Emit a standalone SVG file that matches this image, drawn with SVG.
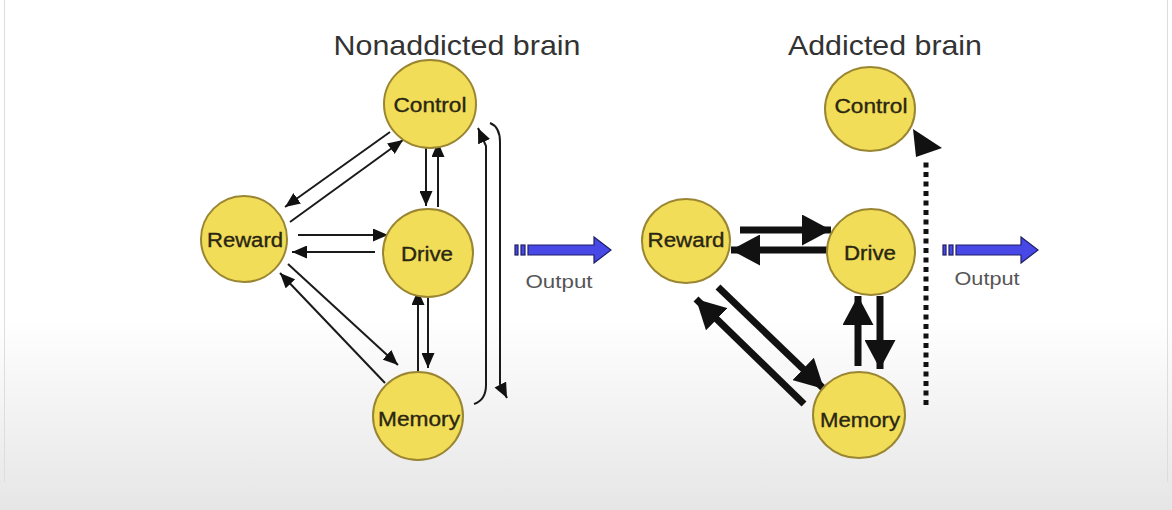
<svg xmlns="http://www.w3.org/2000/svg" width="1172" height="510" viewBox="0 0 1172 510">
  <defs>
    <linearGradient id="bg" x1="0" y1="0" x2="0" y2="1">
      <stop offset="0" stop-color="#ffffff"/>
      <stop offset="0.62" stop-color="#ffffff"/>
      <stop offset="1" stop-color="#e6e6e6"/>
    </linearGradient>
    <marker id="thin" markerUnits="userSpaceOnUse" markerWidth="15" markerHeight="13" refX="15" refY="6.5" orient="auto">
      <path d="M0,0 L15,6.5 L0,13 z" fill="#111"/>
    </marker>
    <marker id="thick" markerUnits="userSpaceOnUse" markerWidth="29" markerHeight="31" refX="29" refY="15.5" orient="auto">
      <path d="M0,0 L29,15.5 L0,31 z" fill="#111"/>
    </marker>
    <style>
      .node ellipse { fill: #f1dd58; stroke: #9a8632; stroke-width: 2; }
      .node text { font-family: "Liberation Sans", Arial, sans-serif; font-size: 20px; fill: #2a2612; stroke: #2a2612; stroke-width: 0.35; text-anchor: middle; }
      .title { font-family: "Liberation Sans", Arial, sans-serif; font-size: 28px; fill: #333; text-anchor: middle; }
      .out-label { font-family: "Liberation Sans", Arial, sans-serif; font-size: 19px; fill: #555; text-anchor: middle; }
      .thin { stroke: #1a1a1a; stroke-width: 2; fill: none; marker-end: url(#thin); }
      .bold { stroke: #111; stroke-width: 7; fill: none; marker-end: url(#thick); }
      .outarrow { fill: #4848e6; stroke: #1e1e66; stroke-width: 1.2; }
    </style>
  </defs>

  <rect x="0" y="0" width="1172" height="510" fill="url(#bg)"/>
  <line x1="4.5" y1="0" x2="4.5" y2="482" stroke="#dddddd" stroke-width="1"/>
  <line x1="1167.5" y1="0" x2="1167.5" y2="482" stroke="#dddddd" stroke-width="1"/>

  <text class="title" x="457" y="55" textLength="247" lengthAdjust="spacingAndGlyphs">Nonaddicted brain</text>
  <text class="title" x="885" y="55" textLength="194" lengthAdjust="spacingAndGlyphs">Addicted brain</text>

  <g id="connectors">
    <!-- Nonaddicted -->
    <line class="thin" x1="390" y1="132" x2="285" y2="207"/>
    <line class="thin" x1="290" y1="222" x2="403" y2="140"/>
    <line class="thin" x1="298" y1="235" x2="388" y2="235"/>
    <line class="thin" x1="375" y1="252" x2="292" y2="252"/>
    <line class="thin" x1="288" y1="264" x2="398" y2="365"/>
    <line class="thin" x1="385" y1="383" x2="280" y2="273"/>
    <line class="thin" x1="426" y1="148" x2="426" y2="206"/>
    <line class="thin" x1="438" y1="207" x2="438" y2="142"/>
    <line class="thin" x1="418" y1="372" x2="418" y2="290"/>
    <line class="thin" x1="428" y1="296" x2="428" y2="368"/>
    <path class="thin" d="M474,404 Q486,400 486,385 L486,146 L478,128"/>
    <path class="thin" d="M490,123 Q500,127 500,142 L500,384 L507,398"/>

    <!-- Addicted -->
    <line class="bold" x1="740" y1="230" x2="831" y2="230"/>
    <line class="bold" x1="828" y1="250" x2="731" y2="250"/>
    <line class="bold" x1="718" y1="287" x2="824" y2="389"/>
    <line class="bold" x1="804" y1="404" x2="696" y2="299"/>
    <line class="bold" x1="858" y1="366" x2="858" y2="296"/>
    <line class="bold" x1="880" y1="296" x2="880" y2="369"/>
    <line x1="926" y1="405" x2="926" y2="160" stroke="#111" stroke-width="5" stroke-dasharray="5,4.5"/>
    <polygon points="913,129 942,148 916,157" fill="#111"/>

    <!-- Output arrows -->
    <rect class="outarrow" x="515" y="245" width="3" height="10"/>
    <rect class="outarrow" x="521" y="245" width="4" height="10"/>
    <path class="outarrow" d="M528,245 L594,245 L594,237 L611,250 L594,263 L594,255 L528,255 z"/>
    <rect class="outarrow" x="943" y="245" width="3" height="10"/>
    <rect class="outarrow" x="949" y="245" width="4" height="10"/>
    <path class="outarrow" d="M956,245 L1021,245 L1021,237 L1038,250 L1021,263 L1021,255 L956,255 z"/>
  </g>

  <text class="out-label" x="559" y="288" textLength="67" lengthAdjust="spacingAndGlyphs">Output</text>
  <text class="out-label" x="987" y="285" textLength="65" lengthAdjust="spacingAndGlyphs">Output</text>

  <g id="n-control" class="node">
    <ellipse cx="430" cy="104" rx="46" ry="44"/>
    <text x="430" y="112" textLength="73" lengthAdjust="spacingAndGlyphs">Control</text>
  </g>
  <g id="n-reward" class="node">
    <ellipse cx="244" cy="239" rx="43" ry="43"/>
    <text x="245" y="247" textLength="76" lengthAdjust="spacingAndGlyphs">Reward</text>
  </g>
  <g id="n-drive" class="node">
    <ellipse cx="428" cy="253" rx="45" ry="44"/>
    <text x="427" y="261" textLength="52" lengthAdjust="spacingAndGlyphs">Drive</text>
  </g>
  <g id="n-memory" class="node">
    <ellipse cx="418" cy="416" rx="45" ry="44"/>
    <text x="419" y="426" textLength="82" lengthAdjust="spacingAndGlyphs">Memory</text>
  </g>

  <g id="a-control" class="node">
    <ellipse cx="870" cy="109" rx="45" ry="42"/>
    <text x="871" y="113" textLength="73" lengthAdjust="spacingAndGlyphs">Control</text>
  </g>
  <g id="a-reward" class="node">
    <ellipse cx="686" cy="241" rx="44" ry="42"/>
    <text x="686" y="247" textLength="77" lengthAdjust="spacingAndGlyphs">Reward</text>
  </g>
  <g id="a-drive" class="node">
    <ellipse cx="871" cy="252" rx="44" ry="43"/>
    <text x="870" y="260" textLength="52" lengthAdjust="spacingAndGlyphs">Drive</text>
  </g>
  <g id="a-memory" class="node">
    <ellipse cx="859" cy="415" rx="46" ry="43"/>
    <text x="860" y="427" textLength="80" lengthAdjust="spacingAndGlyphs">Memory</text>
  </g>
</svg>
